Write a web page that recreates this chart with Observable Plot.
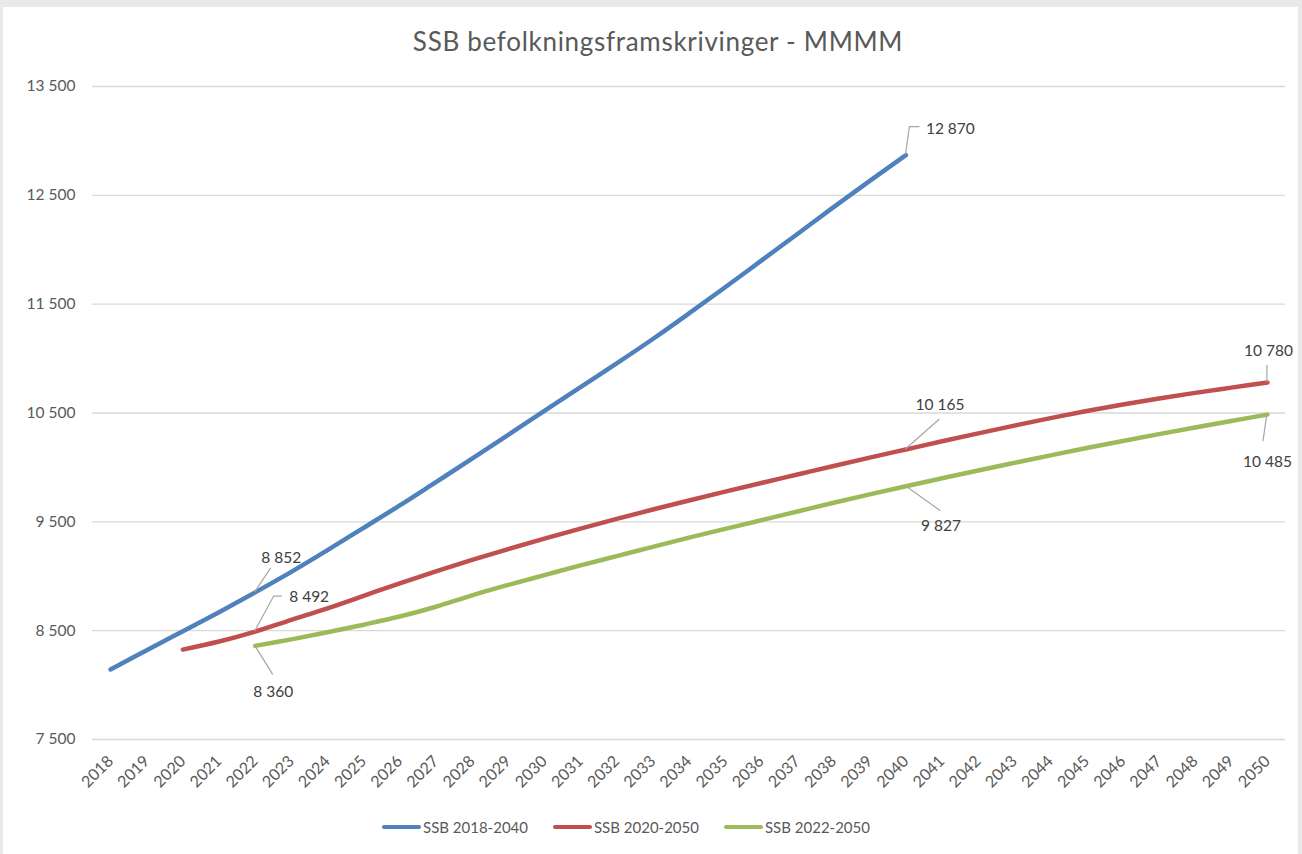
<!DOCTYPE html>
<html>
<head>
<meta charset="utf-8">
<script src="https://cdn.jsdelivr.net/npm/d3@7"></script>
<script src="https://cdn.jsdelivr.net/npm/@observablehq/plot@0.6"></script>
<style>
  html, body { margin: 0; padding: 0; }
  body { width: 1302px; height: 854px; background: #e9e9e9; position: relative; overflow: hidden; font-family: Lato, "Open Sans", sans-serif; }
  #panel { position: absolute; left: 3px; top: 7px; width: 1295px; height: 847px; background: #fff; }
  #title { position: absolute; left: 0; top: 26px; width: 1316px; text-align: center; font-size: 26px; letter-spacing: 0.7px; color: #595959; line-height: 30px; }
  #chart { position: absolute; left: 0; top: 70px; }
  #legend { position: absolute; left: 382px; top: 817px; display: flex; align-items: center; font-size: 15px; color: #595959; line-height: 20px; }
  .item { display: flex; align-items: center; margin-right: 25px; }
  .sw { width: 39px; height: 4.5px; border-radius: 3px; margin-right: 2px; }
</style>
</head>
<body>
<div id="panel"></div>
<div id="title"></div>
<div id="chart"></div>
<div id="legend"></div>
<script>
// ---- data ----
const titleText = "SSB befolkningsframskrivinger - MMMM";
const seriesNames = ["SSB 2018-2040", "SSB 2020-2050", "SSB 2022-2050"];
const seriesColors = ["#4f81bd", "#c0504d", "#9bbb59"];
const years = d3.range(2018, 2051);
const yTicks = [7500, 8500, 9500, 10500, 11500, 12500, 13500];

const start2018 = 2018;
const values2018 = [8143, 8320, 8495, 8670, 8852, 9040, 9240, 9445, 9651, 9865, 10080, 10300, 10520, 10738, 10956, 11180, 11415, 11655, 11900, 12145, 12392, 12633, 12870];
const start2020 = 2020;
const values2020 = [8326, 8400, 8492, 8600, 8705, 8820, 8935, 9045, 9150, 9250, 9345, 9437, 9527, 9613, 9696, 9777, 9857, 9935, 10013, 10090, 10165, 10240, 10313, 10384, 10453, 10518, 10578, 10633, 10685, 10733, 10780];
const start2022 = 2022;
const values2022 = [8360, 8420, 8485, 8555, 8630, 8720, 8825, 8920, 9010, 9100, 9185, 9270, 9355, 9435, 9515, 9595, 9675, 9752, 9827, 9900, 9972, 10042, 10111, 10178, 10243, 10306, 10367, 10427, 10485];

// labelled points: series index, year, value
const labelSeries = [0, 0, 1, 2, 1, 2, 1, 2];
const labelYears  = [2040, 2022, 2022, 2022, 2040, 2040, 2050, 2050];
const labelValues = [12870, 8852, 8492, 8360, 10165, 9827, 10780, 10485];

// ---- build table ----
const rows = [];
[[start2018, values2018], [start2020, values2020], [start2022, values2022]].forEach(([s, vals], i) => {
  vals.forEach((v, j) => rows.push({series: seriesNames[i], year: s + j, value: v}));
});
const fmt = v => d3.format(",")(v).replace(/,/g, " ");
const labels = labelSeries.map((s, i) => ({series: seriesNames[s], year: labelYears[i], value: labelValues[i], text: fmt(labelValues[i])}));

// ---- annotation styling (pixel offsets of leader lines & texts) ----
const annot = [
  {leader: [[0,0],[4,-28],[14,-28]], dx: 20, dy: -26, anchor: "start"},
  {leader: [[0,0],[16,-24]], dx: 26, dy: -34, anchor: "middle"},
  {leader: [[0,0],[19,-35],[27,-35]], dx: 34, dy: -35, anchor: "start"},
  {leader: [[0,0],[18,29]], dx: 18, dy: 46, anchor: "middle"},
  {leader: [[0,0],[34,-30]], dx: 34, dy: -44, anchor: "middle"},
  {leader: [[0,0],[35,25]], dx: 35, dy: 40, anchor: "middle"},
  {leader: [[0,0],[0,-17]], dx: 1, dy: -31, anchor: "middle"},
  {leader: [[0,0],[-4,27]], dx: 0, dy: 47, anchor: "middle"}
];

document.getElementById("title").textContent = titleText;

const leaders = (index, scales) => {
  const g = d3.create("svg:g").attr("fill", "none").attr("stroke", "#a6a6a6").attr("stroke-width", 1.2);
  labels.forEach((d, i) => {
    const x0 = scales.x(d.year), y0 = scales.y(d.value);
    g.append("path").attr("d", d3.line()(annot[i].leader.map(([dx, dy]) => [x0 + dx, y0 + dy])));
  });
  return g.node();
};

const chart = Plot.plot({
  width: 1302,
  height: 730,
  marginLeft: 92,
  marginRight: 17,
  marginTop: 16,
  marginBottom: 61,
  style: {fontFamily: "Lato, 'Open Sans', sans-serif", fontSize: "15.5px", color: "#595959", background: "transparent"},
  x: {type: "linear", domain: [2017.5, 2050.5]},
  y: {domain: [7500, 13500]},
  color: {domain: seriesNames, range: seriesColors},
  marks: [
    Plot.gridY(yTicks, {stroke: "#d9d9d9", strokeOpacity: 1, strokeWidth: 1.3}),
    Plot.axisY(yTicks, {tickSize: 0, tickPadding: 17, tickFormat: fmt, label: null}),
    Plot.axisX(years, {tickSize: 0, tickRotate: -45, tickPadding: 19, tickFormat: d => String(d), label: null, fontSize: 16}),
    Plot.line(rows, {x: "year", y: "value", z: "series", stroke: "series", strokeWidth: 4.5, curve: "catmull-rom", strokeLinecap: "round", strokeLinejoin: "round"}),
    leaders,
    ...labels.map((d, i) => Plot.text([d], {x: "year", y: "value", text: "text", dx: annot[i].dx, dy: annot[i].dy, textAnchor: annot[i].anchor, fill: "#404040", fontSize: 15.5}))
  ]
});
document.getElementById("chart").appendChild(chart);

const legend = document.getElementById("legend");
seriesNames.forEach((n, i) => {
  const it = document.createElement("div");
  it.className = "item";
  const sw = document.createElement("div");
  sw.className = "sw";
  sw.style.background = seriesColors[i];
  const t = document.createElement("span");
  t.textContent = n;
  it.appendChild(sw); it.appendChild(t);
  legend.appendChild(it);
});
</script>
</body>
</html>
